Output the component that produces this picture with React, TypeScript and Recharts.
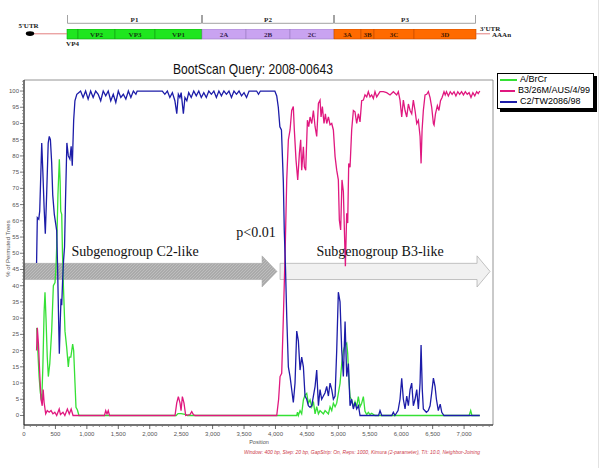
import React from 'react';
import {
  LineChart, Line, XAxis, YAxis, ReferenceArea, ReferenceDot, Legend,
  BarChart, Bar, LabelList,
} from 'recharts';

// ---------------- genome map (schematic units) ----------------
const proteinNames = ['VP4', 'VP2', 'VP3', 'VP1', '2A', '2B', '2C', '3A', '3B', '3C', '3D'];
const proteinUnits = [11, 37, 40, 47, 44, 44, 44, 27, 13, 40, 62];
const proteinRegions = ['P1', 'P1', 'P1', 'P1', 'P2', 'P2', 'P2', 'P3', 'P3', 'P3', 'P3'];
const regionNames = ['P1', 'P2', 'P3'];
const regionFills = ['#1fe61f', '#c9a3f1', '#ff6a00'];
const regionEdges = ['#12a012', '#9c7cc4', '#c44c00'];
const regionText = ['#143d14', '#3a2455', '#4a1a00'];

// ---------------- bootscan traces [position, % of permuted trees] ----------------
const seriesNames = ['A/BrCr', 'B3/26M/AUS/4/99', 'C2/TW2086/98'];
const seriesColors = ['#35e035', '#e0187f', '#1c1ca8'];

const brcrTrace = [
  [202, 27], [220, 20], [240, 12], [260, 7], [282, 4.3], [300, 15], [320, 32], [334, 38], [350, 30],
  [370, 18], [387, 12], [410, 16], [440, 26], [467, 40], [493, 41], [510, 46], [520, 52], [540, 68],
  [562, 79], [575, 72], [584, 63], [600, 62], [612, 50], [625, 41], [652, 26], [679, 21], [705, 15],
  [720, 18], [745, 18], [774, 22], [790, 20], [811, 10], [827, 2.5], [850, 1.7], [874, 0], [2420, 0],
  [2450, 0.6], [2500, 0.6], [2580, 0.3], [2600, 0], [4338, 0], [4350, 1], [4364, 0], [4391, 1.5],
  [4417, 0.5], [4444, 4.8], [4470, 6.3], [4497, 6.8], [4523, 3.8], [4550, 4.8], [4577, 2.7], [4603, 4.3],
  [4630, 0.5], [4656, 2.7], [4683, 0.5], [4709, 1.5], [4735, 1], [4762, 0.5], [4789, 1.5], [4815, 1],
  [4842, 0.5], [4868, 2.7], [4895, 1.5], [4921, 3.8], [4948, 2.7], [4974, 3.8], [5000, 6.8], [5027, 9.9],
  [5054, 16], [5080, 20], [5107, 21.7], [5133, 22.3], [5149, 19], [5165, 12], [5186, 5.8], [5212, 4.8],
  [5239, 2.7], [5265, 4.3], [5292, 2.7], [5318, 5.8], [5345, 2.7], [5371, 3.8], [5398, 5.8], [5424, 1.3],
  [5451, 0.3], [5477, 1], [5504, 0.3], [5530, 0.7], [5583, 0], [7080, 0], [7105, 1.5], [7125, 0], [7250, 0],
];

const b3Trace = [
  [200, 20], [212, 27], [230, 22], [250, 13], [270, 5], [290, 3], [305, 8], [320, 4], [345, 0.5],
  [370, 1.5], [400, 1], [430, 1.5], [460, 0.5], [490, 1], [520, 0], [560, 2], [580, 0.3], [620, 1],
  [650, 0], [690, 2], [720, 0.5], [750, 2], [780, 0], [1280, 0], [1300, 1.5], [1320, 0.5], [1340, 1.5],
  [1360, 0], [2402, 0], [2429, 3.8], [2455, 5.8], [2482, 3.8], [2498, 1.5], [2519, 5.8], [2545, 3.8],
  [2572, 0], [2641, 0.3], [2668, 1.2], [2694, 0.3], [2720, 0], [4020, 0], [4050, 5], [4073, 12],
  [4099, 13], [4125, 30], [4152, 49], [4179, 72.6], [4205, 85], [4232, 88], [4258, 94], [4284, 95.2],
  [4300, 88], [4327, 78.7], [4354, 72.6], [4380, 80.7], [4401, 85], [4417, 75.6], [4444, 82.8],
  [4460, 76.6], [4481, 75.6], [4508, 91], [4529, 89], [4550, 92], [4577, 90], [4603, 94], [4630, 89],
  [4656, 86], [4683, 96.2], [4709, 97.2], [4725, 92], [4746, 95.2], [4772, 90], [4794, 93], [4815, 90],
  [4842, 92], [4868, 89.6], [4895, 90], [4921, 88], [4948, 79.8], [4974, 75.6], [5000, 72.6], [5016, 60.2],
  [5037, 57.2], [5058, 72.6], [5080, 69], [5096, 57.2], [5112, 46], [5133, 62.3], [5149, 59.3],
  [5165, 77.7], [5186, 76.5], [5212, 88], [5239, 94], [5265, 93.6], [5292, 90], [5318, 93], [5345, 90.5],
  [5371, 97], [5398, 97.2], [5424, 98.8], [5451, 98.2], [5477, 99.8], [5504, 98.2], [5530, 98.8],
  [5557, 97.7], [5583, 99.8], [5610, 98.2], [5663, 99.8], [5716, 99.8], [5769, 99.5], [5822, 98.8],
  [5875, 99.8], [5928, 98.8], [5954, 99.8], [5981, 97.2], [6008, 92], [6034, 97.2], [6061, 94],
  [6088, 92], [6114, 96], [6141, 94], [6167, 93], [6193, 97.2], [6220, 94], [6247, 90], [6273, 91],
  [6300, 86], [6316, 77.7], [6332, 88], [6352, 94], [6379, 98.8], [6406, 99], [6432, 99.8], [6459, 98],
  [6485, 95], [6512, 90], [6523, 89.5], [6545, 93], [6575, 95.5], [6600, 94], [6625, 97], [6650, 98],
  [6681, 99.8], [6700, 98.8], [6720, 99.8], [6750, 98.5], [6780, 99.8], [6810, 99], [6840, 99.8],
  [6870, 98.5], [6900, 99.8], [6930, 99], [6960, 99.8], [6990, 98.8], [7020, 99.8], [7050, 99],
  [7080, 99.5], [7110, 98], [7140, 99.5], [7170, 98.5], [7200, 99.8], [7225, 99.2], [7250, 100],
];

const c2Trace = [
  [200, 47], [212, 61], [235, 60.5], [250, 63], [282, 84], [300, 75], [320, 64], [339, 56], [360, 68],
  [385, 84], [402, 86], [420, 85], [440, 78], [457, 68], [482, 62], [505, 59], [520, 57], [535, 45],
  [550, 30], [562, 19], [575, 28], [589, 36], [600, 34], [615, 42], [630, 48], [645, 52], [660, 66],
  [682, 84], [705, 80], [730, 79], [750, 83], [768, 77], [790, 91], [810, 97], [840, 99], [870, 99.5],
  [900, 100], [940, 98], [980, 100], [1020, 97.5], [1060, 100], [1100, 98], [1140, 100], [1180, 99],
  [1220, 97], [1260, 100], [1300, 98.5], [1340, 100], [1380, 97], [1420, 99], [1460, 96.5], [1500, 100],
  [1540, 98], [1580, 99], [1620, 97.5], [1660, 100], [1700, 98], [1740, 100], [1780, 99], [1800, 100],
  [2200, 100], [2240, 99], [2280, 100], [2320, 98], [2360, 99.5], [2400, 97], [2430, 93], [2455, 99],
  [2480, 98], [2500, 99.5], [2535, 93], [2560, 98], [2590, 97], [2620, 99.5], [2660, 98], [2700, 100],
  [2740, 98.5], [2780, 100], [2820, 98], [2860, 99.5], [2900, 98], [2940, 100], [2980, 99], [3020, 100],
  [3060, 98], [3100, 100], [3140, 98.5], [3180, 100], [3220, 99], [3260, 100], [3300, 98], [3340, 100],
  [3380, 99], [3420, 100], [3460, 98.5], [3500, 99.5], [3540, 98], [3580, 100], [3700, 100], [3730, 99],
  [3760, 100], [3990, 100], [4020, 98.5], [4045, 95], [4070, 89], [4095, 88], [4125, 72], [4140, 57],
  [4160, 45], [4180, 30], [4205, 15], [4232, 12], [4258, 8], [4284, 4], [4311, 10], [4338, 26],
  [4364, 23], [4391, 14], [4417, 18], [4444, 15], [4470, 6], [4497, 5], [4523, 3], [4550, 2.5],
  [4577, 3], [4603, 6], [4630, 9], [4656, 14], [4683, 3], [4709, 8], [4735, 5], [4762, 6], [4789, 7],
  [4815, 9], [4842, 6], [4868, 10], [4895, 8], [4921, 5], [4948, 6], [4974, 20], [5000, 38], [5027, 35],
  [5054, 20], [5080, 12], [5107, 29], [5133, 12], [5160, 16], [5186, 3], [5212, 5], [5239, 2], [5265, 4],
  [5292, 2], [5320, 3], [5345, 0], [5640, 0], [5663, 1.5], [5690, 0], [5850, 0], [5875, 1], [5900, 0],
  [5950, 1.5], [5981, 5], [6008, 11.5], [6034, 5], [6061, 2], [6088, 6], [6114, 3], [6141, 8], [6167, 10],
  [6193, 3], [6220, 5], [6247, 8], [6273, 2], [6300, 10], [6316, 21.7], [6335, 8], [6352, 2], [6400, 1],
  [6430, 1.5], [6459, 3], [6485, 7], [6512, 11.5], [6538, 9], [6560, 5], [6590, 1.5], [6620, 3.5],
  [6645, 1], [6680, 0], [7250, 0],
];

// ---------------- axes ----------------
const positionTicks = [0, 500, 1000, 1500, 2000, 2500, 3000, 3500, 4000, 4500, 5000, 5500, 6000, 6500, 7000];
const percentTicks = [0, 5, 10, 15, 20, 25, 30, 35, 40, 45, 50, 55, 60, 65, 70, 75, 80, 85, 90, 95, 100];
const positionDomain = [0, 7460];
const percentDomain = [-2.93, 103.4];
const positionStep = 100;
const percentStep = 1;
const positionAllTicks = Array.from({ length: 75 }, (_, i) => i * positionStep);
const percentAllTicks = Array.from({ length: 104 }, (_, i) => i * percentStep);

// ---------------- annotations ----------------
const arrowLabels = ['Subgenogroup C2-like', 'Subgenogroup B3-like'];
const arrowFrom = [0, 4073];
const arrowTo = [4025, 7413];
const arrowLow = [39.6, 39.6];
const arrowHigh = [49.2, 49.2];
const arrowLabelPos = [1766, 5663];
const arrowLabelPct = [50.4, 50.4];
const pValueText = 'p<0.01';
const pValuePos = 3691;
const pValuePct = 56.3;

const titleText = 'BootScan Query: 2008-00643';
const footerText = 'Window: 400 bp, Step: 20 bp, GapStrip: On, Reps: 1000, Kimura (2-parameter), T/t: 10.0, Neighbor-Joining';

const SANS = "'Liberation Sans', Arial, sans-serif";
const SERIF = "'Liberation Serif', 'Times New Roman', serif";

const toPoints = (trace: number[][]) => trace.map(([pos, pct]) => ({ pos, pct }));
const seriesData = [toPoints(brcrTrace), toPoints(b3Trace), toPoints(c2Trace)];

const fmtPos = (v: number) => v.toLocaleString('en-US');

const XTick = (props: any) => {
  const x = Number(props.x), y = Number(props.y);
  const v = props.payload ? props.payload.value : 0;
  const major = positionTicks.includes(v);
  return (
    <g>
      <line x1={x} y1={y} x2={x} y2={y + (major ? 4 : 2)} stroke={major ? '#444' : '#777'} strokeWidth={0.8} />
      {major && (
        <text x={x} y={y + 11} textAnchor="middle" fontSize={6} fontFamily={SANS} fill="#555">{fmtPos(v)}</text>
      )}
    </g>
  );
};

const YTick = (props: any) => {
  const x = Number(props.x), y = Number(props.y);
  const v = props.payload ? props.payload.value : 0;
  const major = percentTicks.includes(v);
  return (
    <g>
      <line x1={x - (major ? 4 : 2)} y1={y} x2={x} y2={y} stroke={major ? '#444' : '#777'} strokeWidth={0.7} />
      {major && (
        <text x={x - 5} y={y + 2} textAnchor="end" fontSize={6} fontFamily={SANS} fill="#555">{v}</text>
      )}
    </g>
  );
};

const makeArrowShape = (kind: number) => (props: any) => {
  const x = Number(props.x), y = Number(props.y), w = Number(props.width), h = Number(props.height);
  const head = kind === 0 ? 15 : 13;
  const inset = h * 0.24;
  const hx = x + w - head;
  const d = `M${x},${y + inset} H${hx} V${y} L${x + w},${y + h / 2} L${hx},${y + h} V${y + h - inset} H${x} Z`;
  if (kind === 0) {
    return (
      <g>
        <defs>
          <pattern id="hatchGray" patternUnits="userSpaceOnUse" width={3} height={3}>
            <rect width={3} height={3} fill="#aaaaaa" />
            <path d="M0,3 L3,0" stroke="#c6c6c6" strokeWidth={0.7} />
          </pattern>
        </defs>
        <path d={d} fill="url(#hatchGray)" stroke="#a2a2a2" strokeWidth={0.5} />
      </g>
    );
  }
  return (
    <g>
      <defs>
        <pattern id="dotLight" patternUnits="userSpaceOnUse" width={2} height={2}>
          <rect width={2} height={2} fill="#f3f3f3" />
          <circle cx={1} cy={1} r={0.5} fill="#d9d9d9" />
        </pattern>
      </defs>
      <path d={d} fill="url(#dotLight)" fillOpacity={0.8} stroke="#b3b3b3" strokeWidth={0.8} />
    </g>
  );
};

const makeTextLabel = (text: string, size: number) => (props: any) => {
  const vb = props.viewBox || {};
  const cx = Number(vb.x) + Number(vb.width || 0) / 2;
  const cy = Number(vb.y) + Number(vb.height || 0) / 2;
  return (
    <text x={cx} y={cy} textAnchor="middle" dominantBaseline="central" fontFamily={SERIF} fontSize={size} fill="#111">
      {text}
    </text>
  );
};

const renderLegend = (props: any) => {
  const payload = props.payload || [];
  return (
    <div style={{
      border: '1px solid #000', boxShadow: '3px 3px 0 #000', background: '#fff',
      padding: '0px 3px 1px 2px', fontFamily: SANS, fontSize: 9, lineHeight: '11px', color: '#000',
    }}>
      {payload.map((item: any) => (
        <div key={item.value} style={{ display: 'flex', alignItems: 'center', whiteSpace: 'nowrap' }}>
          <span style={{ display: 'inline-block', width: 17, height: 0, borderTop: `2px solid ${item.color}`, marginRight: 3 }} />
          <span>{item.value}</span>
        </div>
      ))}
    </div>
  );
};

const proteinRow: any = { name: 'genome' };
proteinNames.forEach((n, i) => { proteinRow[n] = proteinUnits[i]; });
const regionRow: any = { name: 'regions' };
regionNames.forEach((r) => {
  regionRow[r] = proteinUnits.reduce((s, u, i) => (proteinRegions[i] === r ? s + u : s), 0);
});
const totalUnits = proteinUnits.reduce((a, b) => a + b, 0);

const renderProteinLabel = (name: string, color: string) => (p: any) => {
  const x = Number(p.x), y = Number(p.y), w = Number(p.width), h = Number(p.height);
  const below = name === 'VP4';
  return (
    <text x={x + w / 2} y={below ? y + h + 6.5 : y + h / 2 + 2.5} textAnchor="middle"
      fontSize={7} fontWeight="bold" fontFamily={SERIF} fill={below ? '#222' : color}>
      {name}
    </text>
  );
};

const makeBracket = (name: string) => (p: any) => {
  const x = Number(p.x), y = Number(p.y), w = Number(p.width), h = Number(p.height);
  return (
    <g>
      <path d={`M${x + 0.5},${y} V${y + h - 0.7} H${x + w - 0.5} V${y}`} stroke="#8c8c8c" strokeWidth={0.8} fill="none" />
      <text x={x + w / 2} y={y + h - 2} textAnchor="middle" fontSize={7} fontWeight="bold" fontFamily={SERIF} fill="#222">
        {name}
      </text>
    </g>
  );
};

export default function App() {
  return (
    <div style={{ position: 'absolute', left: 0, top: 0, width: 600, height: 468, background: '#fff', overflow: 'hidden' }}>
      {/* main bootscan chart */}
      <div style={{ position: 'absolute', left: 0, top: 0 }}>
        <LineChart width={600} height={468} margin={{ top: 80, right: 107, bottom: 25, left: 0 }}>
          <ReferenceArea x1={positionDomain[0]} x2={positionDomain[1]} y1={percentDomain[0]} y2={percentDomain[1]}
            fill="none" stroke="#7a7a7a" strokeWidth={0.8} ifOverflow="visible" />
          <XAxis dataKey="pos" type="number" domain={positionDomain} ticks={positionAllTicks} interval={0}
            height={18} tickSize={0} tickMargin={0} tickLine={false}
            axisLine={{ stroke: '#222' }} tick={<XTick />} />
          <YAxis type="number" domain={percentDomain} ticks={percentAllTicks} interval={0} width={24}
            tickSize={0} tickMargin={0} tickLine={false} axisLine={{ stroke: '#222' }} tick={<YTick />} />
          {seriesNames.map((name, i) => (
            <Line key={name} data={seriesData[i]} dataKey="pct" name={name} type="linear"
              stroke={seriesColors[i]} strokeWidth={1.3} dot={false} activeDot={false}
              isAnimationActive={false} />
          ))}
          {arrowLabels.map((label, i) => (
            <ReferenceArea key={label} x1={arrowFrom[i]} x2={arrowTo[i]} y1={arrowLow[i]} y2={arrowHigh[i]}
              shape={makeArrowShape(i)} ifOverflow="visible" />
          ))}
          {arrowLabels.map((label, i) => (
            <ReferenceDot key={`t-${label}`} x={arrowLabelPos[i]} y={arrowLabelPct[i]} r={0}
              fill="none" stroke="none" ifOverflow="visible" label={{ content: makeTextLabel(label, 14) }} />
          ))}
          <ReferenceDot x={pValuePos} y={pValuePct} r={0} fill="none" stroke="none" ifOverflow="visible"
            label={{ content: makeTextLabel(pValueText, 14) }} />
          <Legend verticalAlign="middle" align="center" layout="horizontal" content={renderLegend}
            wrapperStyle={{ left: 497, top: 73, width: 97, height: 34 }} />
        </LineChart>
      </div>

      {/* genome region brackets */}
      <div style={{ position: 'absolute', left: 0, top: 15 }}>
        <BarChart width={600} height={9} layout="vertical" data={[regionRow]}
          margin={{ top: 0, right: 124, bottom: 0, left: 67 }} barCategoryGap={0}>
          <XAxis type="number" hide domain={[0, totalUnits]} height={0} />
          <YAxis type="category" dataKey="name" hide width={0} />
          {regionNames.map((r) => (
            <Bar key={r} dataKey={r} stackId="reg" fill="none" shape={makeBracket(r)} isAnimationActive={false} />
          ))}
        </BarChart>
      </div>

      {/* genome protein boxes */}
      <div style={{ position: 'absolute', left: 0, top: 29 }}>
        <BarChart width={600} height={18} layout="vertical" data={[proteinRow]}
          margin={{ top: 0, right: 124, bottom: 8, left: 67 }} barCategoryGap={0}>
          <XAxis type="number" hide domain={[0, totalUnits]} height={0} />
          <YAxis type="category" dataKey="name" hide width={0} />
          {proteinNames.map((n, i) => {
            const ri = regionNames.indexOf(proteinRegions[i]);
            return (
              <Bar key={n} dataKey={n} stackId="genome" fill={regionFills[ri]} stroke={regionEdges[ri]}
                strokeWidth={0.6} isAnimationActive={false}>
                <LabelList dataKey={n} content={renderProteinLabel(n, regionText[ri])} />
              </Bar>
            );
          })}
        </BarChart>
      </div>

      {/* static text & UTR decorations */}
      <svg width={600} height={468} style={{ position: 'absolute', left: 0, top: 0, pointerEvents: 'none' }}>
        <text x={28.5} y={27.5} textAnchor="middle" fontSize={7} fontWeight="bold" fontFamily={SERIF} fill="#222">5'UTR</text>
        <line x1={33} y1={33.8} x2={67} y2={33.8} stroke="#e07070" strokeWidth={0.9} />
        <ellipse cx={30} cy={33.6} rx={4.2} ry={2.3} fill="#000" />
        <line x1={476} y1={33.8} x2={490} y2={33.8} stroke="#e07070" strokeWidth={0.9} />
        <text x={480} y={30.5} fontSize={7} fontWeight="bold" fontFamily={SERIF} fill="#222">3'UTR</text>
        <text x={492} y={37} fontSize={7} fontWeight="bold" fontFamily={SERIF} fill="#222">AAAn</text>
        <text x={253} y={74} textAnchor="middle" fontSize={15} fontFamily={SANS} fill="#111"
          textLength={160} lengthAdjust="spacingAndGlyphs">{titleText}</text>
        <text transform="translate(10,248.5) rotate(-90)" textAnchor="middle" fontSize={6} fontFamily={SANS} fill="#555">
          % of Permuted Trees
        </text>
        <text x={259} y={444} textAnchor="middle" fontSize={5.5} fontFamily={SANS} fill="#555">Position</text>
        <text x={244} y={454} fontSize={5.5} fontStyle="italic" fontFamily={SANS} fill="#cc3b4b"
          textLength={236} lengthAdjust="spacingAndGlyphs">{footerText}</text>
        <line x1={598.5} y1={0} x2={598.5} y2={468} stroke="#e2e2e2" strokeWidth={1} />
      </svg>
    </div>
  );
}
